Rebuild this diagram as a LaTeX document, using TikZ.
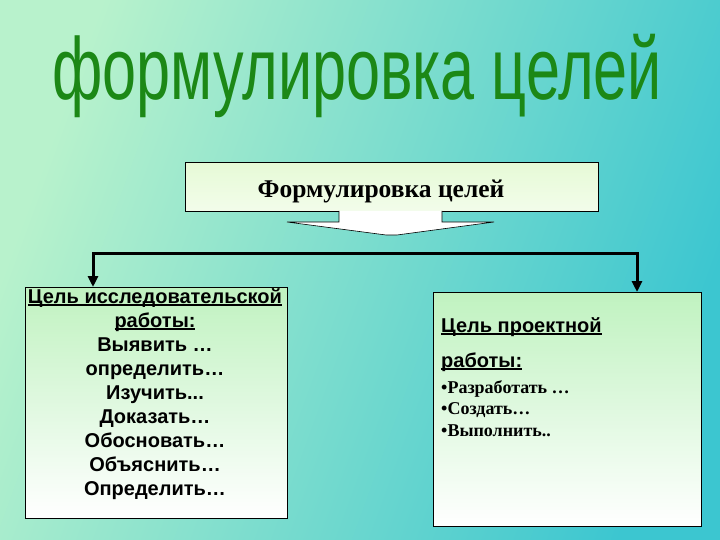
\documentclass[tikz,border=0pt]{standalone}
\usepackage{fontspec}
\setmainfont{Liberation Serif}
\setsansfont{Liberation Sans}
\usetikzlibrary{arrows.meta}

\definecolor{bgleft}{RGB}{184,242,204}
\definecolor{bgright}{RGB}{60,198,208}
\definecolor{titlegreen}{RGB}{28,136,22}
\definecolor{boxgreen}{RGB}{192,242,192}
\definecolor{boxpale}{RGB}{230,250,214}

\newsavebox{\undlbox}
\newcommand{\undl}[1]{\sbox{\undlbox}{#1}\rlap{\rule[-2.6pt]{\wd\undlbox}{1.4pt}}\usebox{\undlbox}}

\tikzset{
  box/.style={draw, line width=0.9pt, anchor=north west, inner sep=0pt},
  arr/.style={line width=3pt, line join=miter, -{Triangle[width=10pt,length=11pt]}},
  sanstext/.style={font=\fontsize{20}{24}\selectfont\sffamily\bfseries, inner sep=0pt},
  serftext/.style={font=\fontsize{18}{21}\selectfont\bfseries, inner sep=0pt, anchor=base west},
}

\begin{document}
\begin{tikzpicture}[x=1pt,y=-1pt]
  \useasboundingbox (0,0) rectangle (720,540);

  % 背景
  \shade[left color=bgleft, right color=bgright, shading angle=70] (0,0) rectangle (720,540);

  % 題名
  \node[font=\fontsize{88}{88}\selectfont\sffamily, text=titlegreen, xscale=0.695, anchor=base, inner sep=0pt] (title) at (357,100) {формулировка целей};

  % 箱を描く
  \node[box, top color=boxpale, bottom color=white!50!boxpale, minimum width=413pt, minimum height=49pt] (goal) at (185,162) {};
  \node[box, top color=boxgreen, bottom color=white, minimum width=262pt, minimum height=231pt] (res) at (25,287) {};
  \node[box, top color=boxgreen, bottom color=white, minimum width=268pt, minimum height=234pt] (proj) at (433,292) {};

  % 太い矢印
  \draw[fill=white, line width=0.6pt] (339,211) -- (339,222) -- (287,222) -- (386,235) -- (397,235) -- (494,222) -- (442,222) -- (442,211);

  % 線を引く
  \coordinate (lt) at (93,253);
  \coordinate (rt) at (637,253);
  \draw[arr] (rt) -- (lt) -- (lt |- res.north);
  \draw[arr] (lt) -- (rt) -- (rt |- proj.north);

  % 文字を入れる
  \node[font=\fontsize{25.5}{30}\selectfont\bfseries, anchor=base, inner sep=0pt] (goaltext) at (381,197) {Формулировка целей};
  \node[sanstext, align=center, anchor=north] (restext) at (155,288)
    {\undl{Цель исследовательской}\\ \undl{работы:}\\ Выявить …\\ определить…\\ Изучить...\\ Доказать…\\ Обосновать…\\ Объяснить…\\ Определить…};
  \node[sanstext, anchor=base west] (projhead) at (441,332) {\undl{Цель проектной}};
  \node[sanstext, anchor=base west] (projwork) at (441,367) {\undl{работы:}};
  \node[serftext] (projb1) at (441,393) {•Разработать …};
  \node[serftext] (projb2) at (441,414) {•Создать…};
  \node[serftext] (projb3) at (441,436) {•Выполнить..};

\end{tikzpicture}
\end{document}
